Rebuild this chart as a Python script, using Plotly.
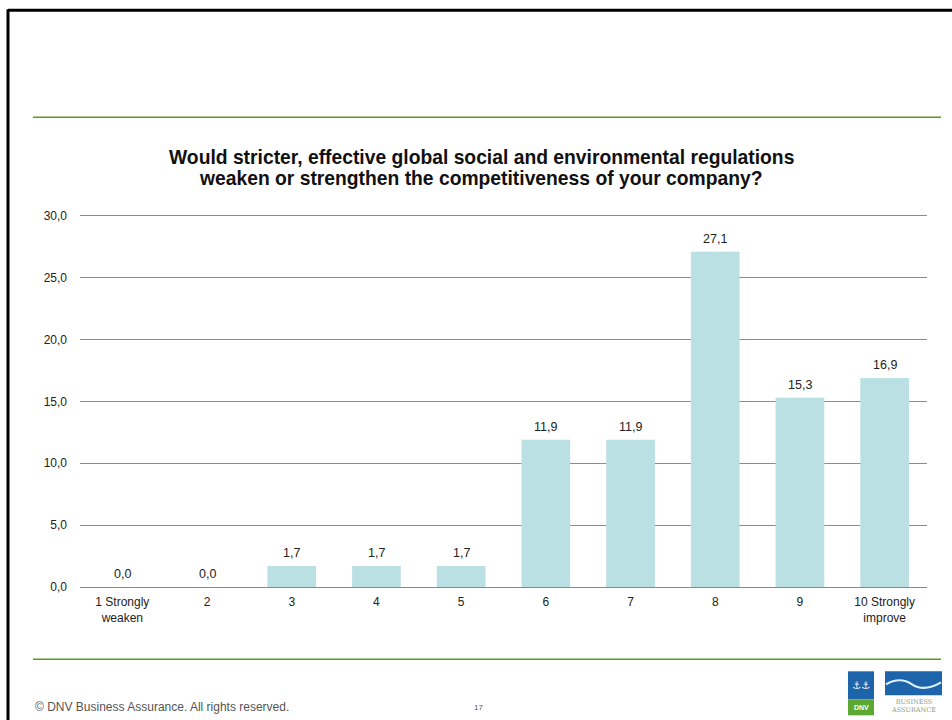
import plotly.graph_objects as go

categories = ["1 Strongly<br>weaken", "2", "3", "4", "5", "6", "7", "8", "9", "10 Strongly<br>improve"]
values = [0.0, 0.0, 1.7, 1.7, 1.7, 11.9, 11.9, 27.1, 15.3, 16.9]
y_ticks = [0, 5, 10, 15, 20, 25, 30]

title_lines = ["<b>Would stricter, effective global social and environmental regulations</b>",
               "<b>weaken or strengthen the competitiveness of your company?</b>"]
footer_text = "© DNV Business Assurance. All rights reserved."
page_number = "17"

W, H = 952, 720
FONT = "Liberation Sans, Arial, sans-serif"

fig = go.Figure()
fig.add_trace(go.Bar(
    x=categories, y=values,
    marker=dict(color="#BBE0E3", line=dict(width=0)),
    width=0.575, hoverinfo="x+y",
))

L, R, T, B = 80, 25, 213.8, 133.3

fig.update_layout(
    width=W, height=H,
    margin=dict(l=L, r=R, t=T, b=B, pad=0),
    paper_bgcolor="white", plot_bgcolor="white",
    separators=",.",
    showlegend=False,
    font=dict(family=FONT, size=12, color="#222222"),
    xaxis=dict(showgrid=False, showline=True, linecolor="#888888", linewidth=1,
               ticks="", tickfont=dict(family=FONT, size=12, color="#222222"),
               ticklabelstandoff=4, fixedrange=True),
    yaxis=dict(range=[0, 30.15], tickvals=y_ticks, tickformat=".1f",
               showgrid=True, gridcolor="#8C8C8C", gridwidth=1,
               zeroline=False, showline=False, ticks="",
               tickfont=dict(family=FONT, size=12, color="#222222"),
               ticklabelstandoff=12, fixedrange=True),
)

def px_x(x):
    return (x - L) / (W - L - R)
def px_y(y):
    return (H - B - y) / (H - T - B)

shapes = []
# black border (top and left)
shapes.append(dict(type="line", xref="paper", yref="paper", x0=px_x(8), x1=px_x(960),
                   y0=px_y(10), y1=px_y(10), line=dict(color="black", width=3)))
shapes.append(dict(type="line", xref="paper", yref="paper", x0=px_x(8), x1=px_x(8),
                   y0=px_y(9), y1=px_y(730), line=dict(color="black", width=3)))
# green rules
for yy in (117, 659):
    shapes.append(dict(type="line", xref="paper", yref="paper", x0=px_x(33), x1=px_x(941),
                       y0=px_y(yy), y1=px_y(yy), line=dict(color="#5B9A1E", width=1.5)))
# logo
shapes.append(dict(type="rect", xref="paper", yref="paper", x0=px_x(848), x1=px_x(874),
                   y0=px_y(671), y1=px_y(699), fillcolor="#1E64AA", line=dict(width=0)))
shapes.append(dict(type="rect", xref="paper", yref="paper", x0=px_x(848), x1=px_x(874),
                   y0=px_y(699), y1=px_y(715), fillcolor="#5CA832", line=dict(width=0)))
shapes.append(dict(type="rect", xref="paper", yref="paper", x0=px_x(885), x1=px_x(942),
                   y0=px_y(671), y1=px_y(695), fillcolor="#1E64AA", line=dict(width=0)))
shapes.append(dict(type="path", xref="paper", yref="paper",
                   path=f"M {px_x(886)},{px_y(684)} Q {px_x(900)},{px_y(676)} {px_x(912)},{px_y(684)} T {px_x(941)},{px_y(682)}",
                   line=dict(color="#DDEEFF", width=2)))
fig.update_layout(shapes=shapes)

annotations = []
# data labels above bars (category index positions on the category axis)
for i, v in enumerate(values):
    annotations.append(dict(x=i, y=v, xref="x", yref="y", text=f"{v:.1f}".replace(".", ","),
                            showarrow=False, yanchor="bottom", yshift=4,
                            font=dict(family=FONT, size=12.5, color="#222222")))
for txt, yy in zip(title_lines, (157, 178)):
    annotations.append(dict(text=txt, xref="paper", yref="paper", x=px_x(481), y=px_y(yy),
                            xanchor="center", yanchor="middle", showarrow=False,
                            font=dict(family=FONT, size=19.3, color="#111111")))
annotations += [
    dict(text=footer_text, xref="paper", yref="paper", x=px_x(33), y=px_y(707),
         xanchor="left", yanchor="middle", showarrow=False,
         font=dict(family=FONT, size=12, color="#555555")),
    dict(text=page_number, xref="paper", yref="paper", x=px_x(478), y=px_y(707),
         xanchor="center", yanchor="middle", showarrow=False,
         font=dict(family=FONT, size=8, color="#555555")),
    dict(text="BUSINESS<br>ASSURANCE", xref="paper", yref="paper", x=px_x(913), y=px_y(706),
         xanchor="center", yanchor="middle", showarrow=False,
         font=dict(family="DejaVu Serif, serif", size=6.5, color="#8A9A7A"), align="center"),
    dict(text="<b>DNV</b>", xref="paper", yref="paper", x=px_x(861), y=px_y(707),
         xanchor="center", yanchor="middle", showarrow=False,
         font=dict(family=FONT, size=7, color="white")),
    dict(text="⚓⚓", xref="paper", yref="paper", x=px_x(861), y=px_y(685),
         xanchor="center", yanchor="middle", showarrow=False,
         font=dict(family="DejaVu Sans", size=10, color="white")),
]
fig.update_layout(annotations=annotations)

fig.write_html("out.html")
